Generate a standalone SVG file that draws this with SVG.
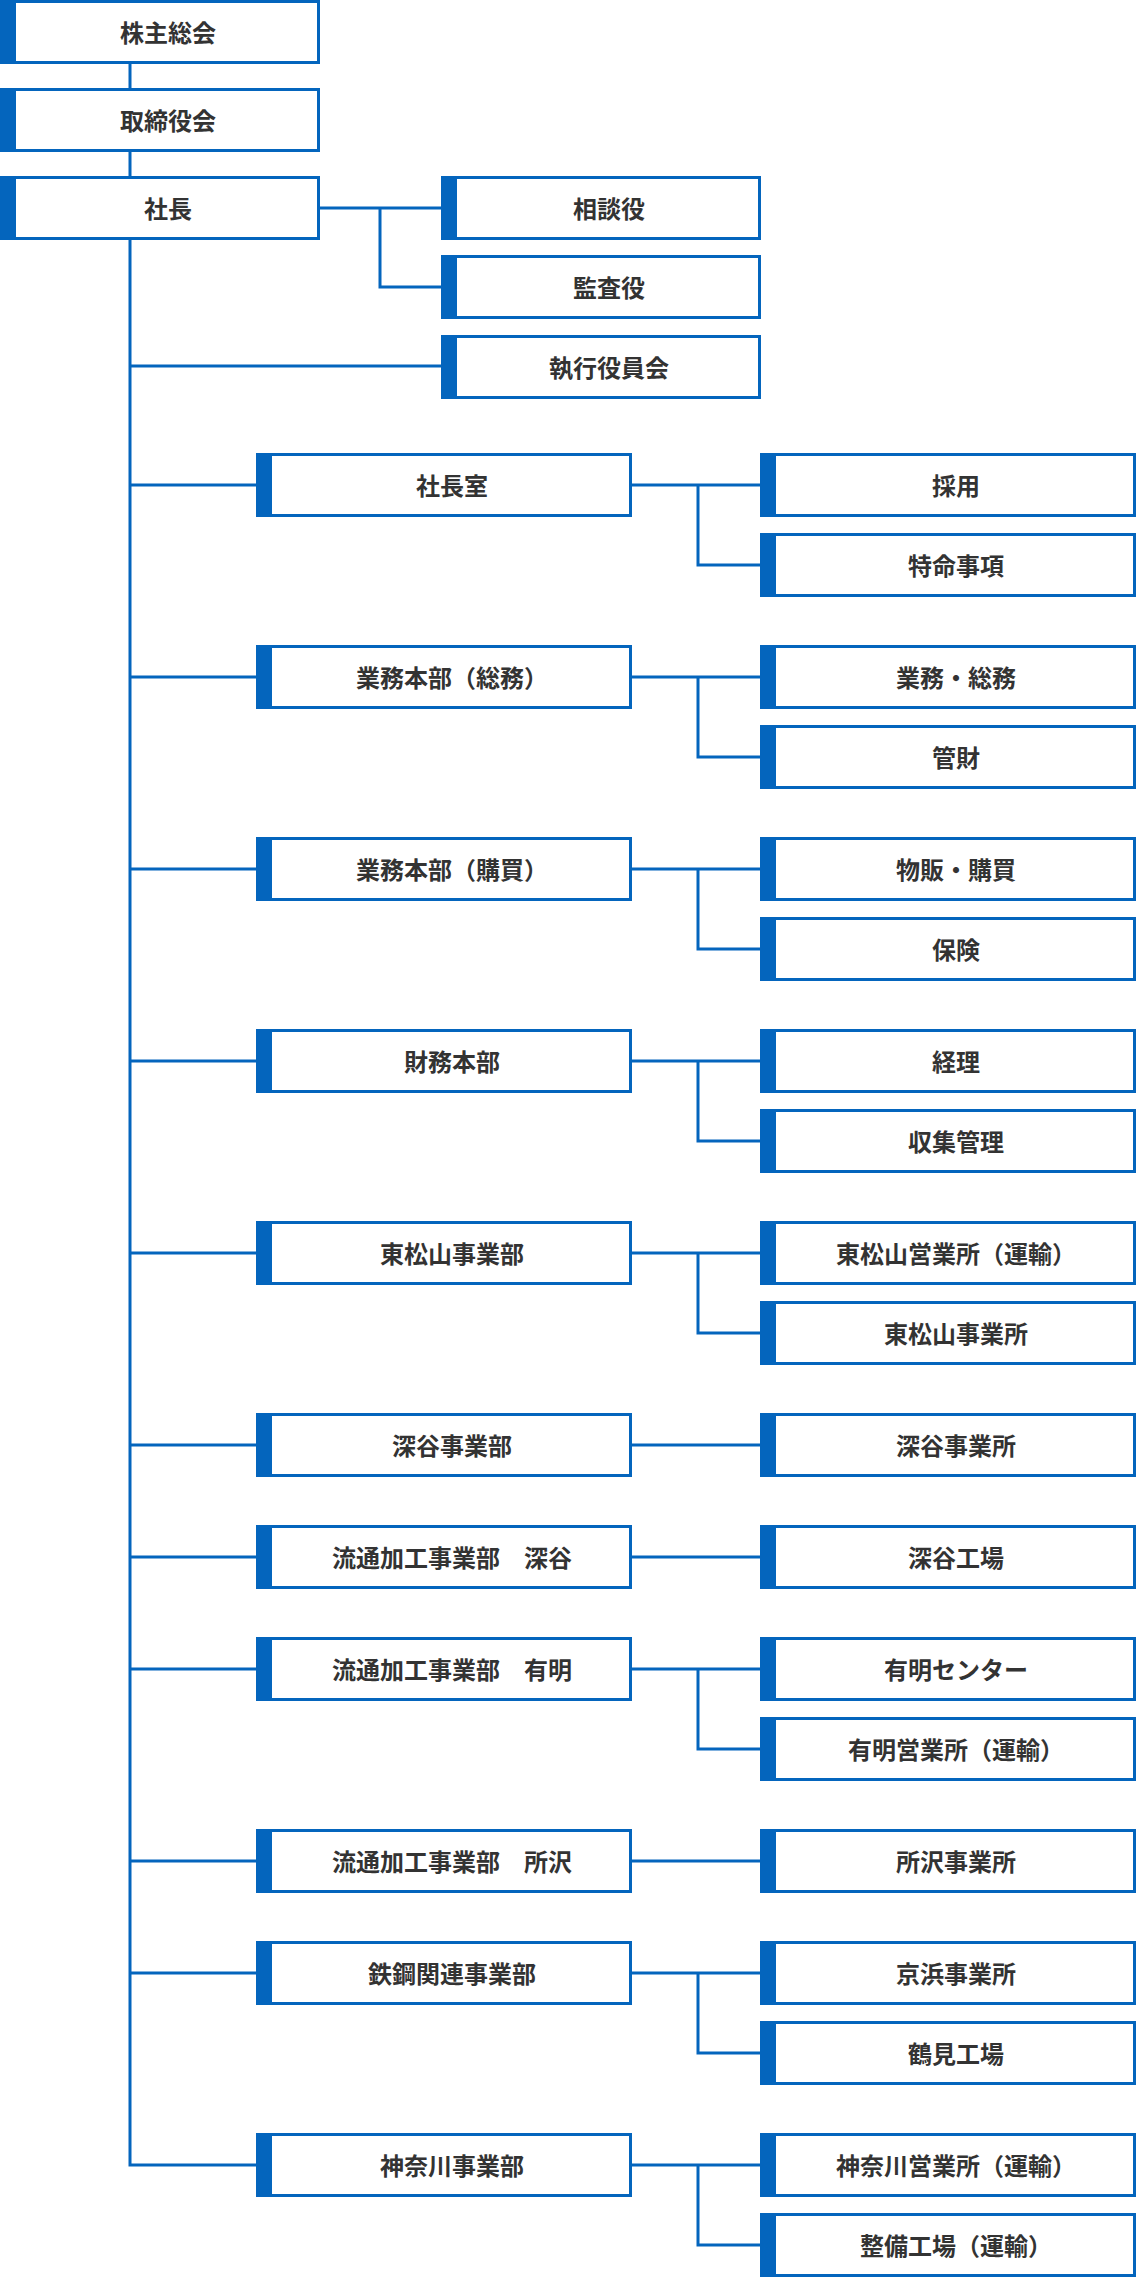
<svg xmlns="http://www.w3.org/2000/svg" width="1136" height="2277" viewBox="0 0 1136 2277">
<style>
.bx{fill:#fff;stroke:#0465BD;stroke-width:3}
.bar{fill:#0465BD}
.cn{fill:none;stroke:#0465BD;stroke-width:3;stroke-linejoin:miter}
text{font-family:"Noto Sans CJK JP","Noto Sans CJK SC",sans-serif;font-size:24px;font-weight:bold;fill:#333;text-anchor:middle}
</style>
<rect width="1136" height="2277" fill="#fff"/>
<g id="connectors">
<path class="cn" d="M130 63V88M130 152V176M130 240V2165H256"/>
<path class="cn" d="M320 208H441M380 208V287H441M130 366H441"/>
<path class="cn" d="M130 485H256M632 485H760M698 485V565H760"/>
<path class="cn" d="M130 677H256M632 677H760M698 677V757H760"/>
<path class="cn" d="M130 869H256M632 869H760M698 869V949H760"/>
<path class="cn" d="M130 1061H256M632 1061H760M698 1061V1141H760"/>
<path class="cn" d="M130 1253H256M632 1253H760M698 1253V1333H760"/>
<path class="cn" d="M130 1445H256M632 1445H760"/>
<path class="cn" d="M130 1557H256M632 1557H760"/>
<path class="cn" d="M130 1669H256M632 1669H760M698 1669V1749H760"/>
<path class="cn" d="M130 1861H256M632 1861H760"/>
<path class="cn" d="M130 1973H256M632 1973H760M698 1973V2053H760"/>
<path class="cn" d="M632 2165H760M698 2165V2245H760"/>
</g>
<g id="n1"><rect class="bx" x="1.5" y="1.5" width="317" height="61"/><rect class="bar" x="0" y="0" width="16" height="64"/><text x="168" y="41.5">株主総会</text></g>
<g id="n2"><rect class="bx" x="1.5" y="89.5" width="317" height="61"/><rect class="bar" x="0" y="88" width="16" height="64"/><text x="168" y="129.5">取締役会</text></g>
<g id="n3"><rect class="bx" x="1.5" y="177.5" width="317" height="61"/><rect class="bar" x="0" y="176" width="16" height="64"/><text x="168" y="217.5">社長</text></g>
<g id="n4"><rect class="bx" x="442.5" y="177.5" width="317" height="61"/><rect class="bar" x="441" y="176" width="16" height="64"/><text x="609" y="217.5">相談役</text></g>
<g id="n5"><rect class="bx" x="442.5" y="256.5" width="317" height="61"/><rect class="bar" x="441" y="255" width="16" height="64"/><text x="609" y="296.5">監査役</text></g>
<g id="n6"><rect class="bx" x="442.5" y="336.5" width="317" height="61"/><rect class="bar" x="441" y="335" width="16" height="64"/><text x="609" y="376.5">執行役員会</text></g>
<g id="d1"><rect class="bx" x="257.5" y="454.5" width="373" height="61"/><rect class="bar" x="256" y="453" width="16" height="64"/><text x="452" y="494.5">社長室</text></g>
<g id="d2"><rect class="bx" x="257.5" y="646.5" width="373" height="61"/><rect class="bar" x="256" y="645" width="16" height="64"/><text x="452" y="686.5">業務本部（総務）</text></g>
<g id="d3"><rect class="bx" x="257.5" y="838.5" width="373" height="61"/><rect class="bar" x="256" y="837" width="16" height="64"/><text x="452" y="878.5">業務本部（購買）</text></g>
<g id="d4"><rect class="bx" x="257.5" y="1030.5" width="373" height="61"/><rect class="bar" x="256" y="1029" width="16" height="64"/><text x="452" y="1070.5">財務本部</text></g>
<g id="d5"><rect class="bx" x="257.5" y="1222.5" width="373" height="61"/><rect class="bar" x="256" y="1221" width="16" height="64"/><text x="452" y="1262.5">東松山事業部</text></g>
<g id="d6"><rect class="bx" x="257.5" y="1414.5" width="373" height="61"/><rect class="bar" x="256" y="1413" width="16" height="64"/><text x="452" y="1454.5">深谷事業部</text></g>
<g id="d7"><rect class="bx" x="257.5" y="1526.5" width="373" height="61"/><rect class="bar" x="256" y="1525" width="16" height="64"/><text x="452" y="1566.5">流通加工事業部　深谷</text></g>
<g id="d8"><rect class="bx" x="257.5" y="1638.5" width="373" height="61"/><rect class="bar" x="256" y="1637" width="16" height="64"/><text x="452" y="1678.5">流通加工事業部　有明</text></g>
<g id="d9"><rect class="bx" x="257.5" y="1830.5" width="373" height="61"/><rect class="bar" x="256" y="1829" width="16" height="64"/><text x="452" y="1870.5">流通加工事業部　所沢</text></g>
<g id="d10"><rect class="bx" x="257.5" y="1942.5" width="373" height="61"/><rect class="bar" x="256" y="1941" width="16" height="64"/><text x="452" y="1982.5">鉄鋼関連事業部</text></g>
<g id="d11"><rect class="bx" x="257.5" y="2134.5" width="373" height="61"/><rect class="bar" x="256" y="2133" width="16" height="64"/><text x="452" y="2174.5">神奈川事業部</text></g>
<g id="s1"><rect class="bx" x="761.5" y="454.5" width="373" height="61"/><rect class="bar" x="760" y="453" width="16" height="64"/><text x="956" y="494.5">採用</text></g>
<g id="s2"><rect class="bx" x="761.5" y="534.5" width="373" height="61"/><rect class="bar" x="760" y="533" width="16" height="64"/><text x="956" y="574.5">特命事項</text></g>
<g id="s3"><rect class="bx" x="761.5" y="646.5" width="373" height="61"/><rect class="bar" x="760" y="645" width="16" height="64"/><text x="956" y="686.5">業務・総務</text></g>
<g id="s4"><rect class="bx" x="761.5" y="726.5" width="373" height="61"/><rect class="bar" x="760" y="725" width="16" height="64"/><text x="956" y="766.5">管財</text></g>
<g id="s5"><rect class="bx" x="761.5" y="838.5" width="373" height="61"/><rect class="bar" x="760" y="837" width="16" height="64"/><text x="956" y="878.5">物販・購買</text></g>
<g id="s6"><rect class="bx" x="761.5" y="918.5" width="373" height="61"/><rect class="bar" x="760" y="917" width="16" height="64"/><text x="956" y="958.5">保険</text></g>
<g id="s7"><rect class="bx" x="761.5" y="1030.5" width="373" height="61"/><rect class="bar" x="760" y="1029" width="16" height="64"/><text x="956" y="1070.5">経理</text></g>
<g id="s8"><rect class="bx" x="761.5" y="1110.5" width="373" height="61"/><rect class="bar" x="760" y="1109" width="16" height="64"/><text x="956" y="1150.5">収集管理</text></g>
<g id="s9"><rect class="bx" x="761.5" y="1222.5" width="373" height="61"/><rect class="bar" x="760" y="1221" width="16" height="64"/><text x="956" y="1262.5">東松山営業所（運輸）</text></g>
<g id="s10"><rect class="bx" x="761.5" y="1302.5" width="373" height="61"/><rect class="bar" x="760" y="1301" width="16" height="64"/><text x="956" y="1342.5">東松山事業所</text></g>
<g id="s11"><rect class="bx" x="761.5" y="1414.5" width="373" height="61"/><rect class="bar" x="760" y="1413" width="16" height="64"/><text x="956" y="1454.5">深谷事業所</text></g>
<g id="s12"><rect class="bx" x="761.5" y="1526.5" width="373" height="61"/><rect class="bar" x="760" y="1525" width="16" height="64"/><text x="956" y="1566.5">深谷工場</text></g>
<g id="s13"><rect class="bx" x="761.5" y="1638.5" width="373" height="61"/><rect class="bar" x="760" y="1637" width="16" height="64"/><text x="956" y="1678.5">有明センター</text></g>
<g id="s14"><rect class="bx" x="761.5" y="1718.5" width="373" height="61"/><rect class="bar" x="760" y="1717" width="16" height="64"/><text x="956" y="1758.5">有明営業所（運輸）</text></g>
<g id="s15"><rect class="bx" x="761.5" y="1830.5" width="373" height="61"/><rect class="bar" x="760" y="1829" width="16" height="64"/><text x="956" y="1870.5">所沢事業所</text></g>
<g id="s16"><rect class="bx" x="761.5" y="1942.5" width="373" height="61"/><rect class="bar" x="760" y="1941" width="16" height="64"/><text x="956" y="1982.5">京浜事業所</text></g>
<g id="s17"><rect class="bx" x="761.5" y="2022.5" width="373" height="61"/><rect class="bar" x="760" y="2021" width="16" height="64"/><text x="956" y="2062.5">鶴見工場</text></g>
<g id="s18"><rect class="bx" x="761.5" y="2134.5" width="373" height="61"/><rect class="bar" x="760" y="2133" width="16" height="64"/><text x="956" y="2174.5">神奈川営業所（運輸）</text></g>
<g id="s19"><rect class="bx" x="761.5" y="2214.5" width="373" height="61"/><rect class="bar" x="760" y="2213" width="16" height="64"/><text x="956" y="2254.5">整備工場（運輸）</text></g>
</svg>
